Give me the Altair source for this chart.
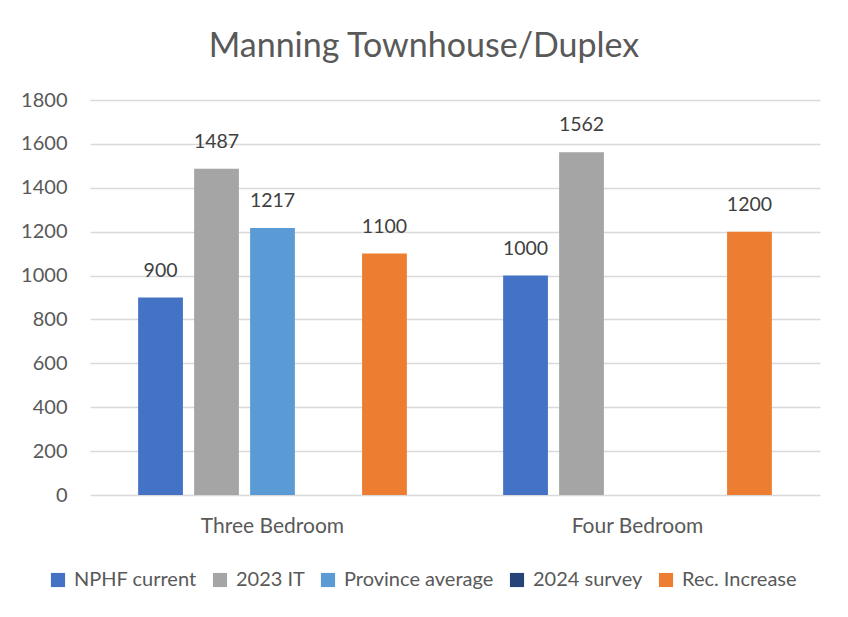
import altair as alt
import pandas as pd

categories = ["Three Bedroom", "Four Bedroom"]
series = ["NPHF current", "2023 IT", "Province average", "2024 survey", "Rec. Increase"]
colors = ["#4472C4", "#A5A5A5", "#5B9BD5", "#264478", "#ED7D31"]
three_bedroom = [900, 1487, 1217, None, 1100]
four_bedroom = [1000, 1562, None, None, 1200]

rows = []
for cat, vals in zip(categories, [three_bedroom, four_bedroom]):
    for s, v in zip(series, vals):
        if v is not None:
            rows.append({"category": cat, "series": s, "value": v})
df = pd.DataFrame(rows)

FONT = "Lato"
TXT = "#595959"

x = alt.X("category:N", sort=categories,
          scale=alt.Scale(paddingInner=0, paddingOuter=0),
          axis=alt.Axis(title=None, labelAngle=0, labelFontSize=21, labelColor=TXT,
                        labelFont=FONT, labelPadding=20, ticks=False, domain=False))
xo = alt.XOffset("series:N", sort=series,
                 scale=alt.Scale(domain=series, paddingInner=0.2, paddingOuter=0.86))
y = alt.Y("value:Q", scale=alt.Scale(domain=[0, 1800]),
          axis=alt.Axis(title=None, values=list(range(0, 1801, 200)), format="d",
                        labelFontSize=20, labelColor=TXT, labelFont=FONT, labelPadding=23,
                        ticks=False, domain=False, grid=True, gridColor="#D9D9D9",
                        gridWidth=1.3))

base = alt.Chart(df)
bars = base.mark_bar().encode(
    x=x, xOffset=xo, y=y,
    color=alt.Color("series:N", sort=series,
                    scale=alt.Scale(domain=series, range=colors),
                    legend=alt.Legend(title=None, orient="none", direction="horizontal",
                                      legendX=-42, legendY=470, symbolType="square",
                                      symbolSize=200, symbolStrokeWidth=0,
                                      labelFontSize=20, labelColor=TXT, labelFont=FONT,
                                      labelLimit=400, columnPadding=13, labelOffset=6)),
)
labels = base.mark_text(baseline="bottom", dy=-17, fontSize=19.5, color="#404040", font=FONT).encode(
    x=x, xOffset=xo, y=y, text=alt.Text("value:Q", format="d")
)

chart = (bars + labels).properties(
    width=730, height=395,
    background="white",
    title=alt.TitleParams("Manning Townhouse/Duplex", fontSize=34, color=TXT, font=FONT,
                          fontWeight="normal", anchor="middle", dx=-31, offset=26),
    autosize=alt.AutoSizeParams(type="none"),
    padding={"left": 82, "top": 92, "right": 20, "bottom": 115},
).configure_view(stroke=None)

chart.save("out.html", embed_options={"renderer": "svg", "actions": False})
